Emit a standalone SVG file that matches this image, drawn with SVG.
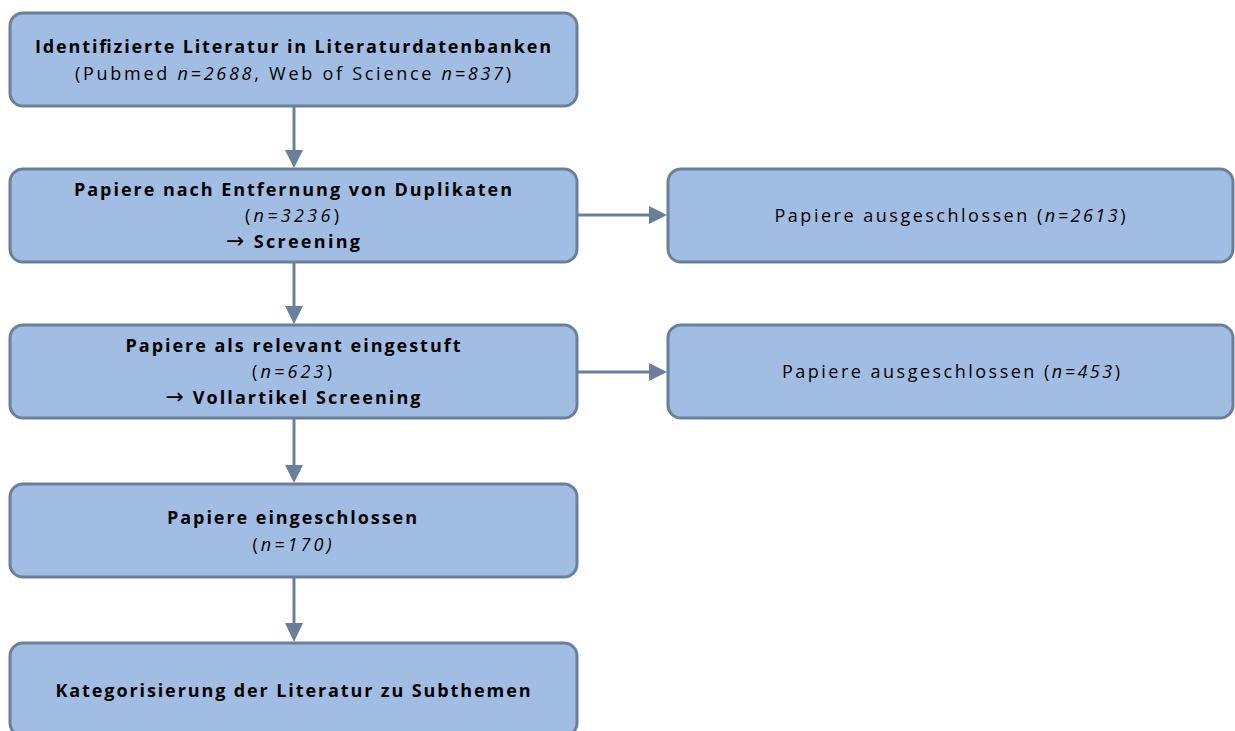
<svg xmlns="http://www.w3.org/2000/svg" width="1235" height="731" viewBox="0 0 1235 731">
<defs>
<style>
.box{fill:#A2BDE3;stroke:#6A7F9A;stroke-width:3}
text{font-family:"Open Sans","Liberation Sans",sans-serif;font-size:18px;fill:#000;text-anchor:middle}
.b{font-weight:bold}
.i{font-style:italic}
.ar{font-family:"DejaVu Sans",sans-serif;font-weight:normal;font-size:22px}
.con{stroke:#6A7F9A;stroke-width:3;fill:none}
.ah{fill:#6A7F9A}
</style>
</defs>
<rect width="1235" height="731" fill="#fff"/>
<g id="connectors">
<line class="con" x1="294" y1="106" x2="294" y2="151"/><path class="ah" d="M285,150 L303,150 L294,168 Z"/>
<line class="con" x1="294" y1="262" x2="294" y2="307"/><path class="ah" d="M285,306 L303,306 L294,324 Z"/>
<line class="con" x1="294" y1="418" x2="294" y2="466"/><path class="ah" d="M285,465 L303,465 L294,483 Z"/>
<line class="con" x1="294" y1="577" x2="294" y2="624"/><path class="ah" d="M285,623 L303,623 L294,642 Z"/>
<line class="con" x1="577" y1="215" x2="650" y2="215"/><path class="ah" d="M649,206 L649,224 L667,215 Z"/>
<line class="con" x1="577" y1="372" x2="650" y2="372"/><path class="ah" d="M649,363 L649,381 L667,372 Z"/>
</g>
<g id="n1"><rect class="box" x="10" y="13" width="567" height="93" rx="13"/>
<text x="293" y="53" class="b" textLength="516" lengthAdjust="spacing">Identifizierte Literatur in Literaturdatenbanken</text>
<text x="293" y="80" textLength="436" lengthAdjust="spacing">(Pubmed <tspan class="i">n=2688</tspan>, Web of Science <tspan class="i">n=837</tspan>)</text></g>
<g id="n2"><rect class="box" x="10" y="169" width="567" height="93" rx="13"/>
<text x="293" y="196" class="b" textLength="438" lengthAdjust="spacing">Papiere nach Entfernung von Duplikaten</text>
<text x="292" y="222" textLength="94" lengthAdjust="spacing">(<tspan class="i">n=3236</tspan>)</text>
<text x="293" y="248" class="b" textLength="134" lengthAdjust="spacing"><tspan class="ar">→</tspan> Screening</text></g>
<g id="n3"><rect class="box" x="10" y="325" width="567" height="93" rx="13"/>
<text x="293" y="352" class="b" textLength="335" lengthAdjust="spacing">Papiere als relevant eingestuft</text>
<text x="292" y="378" textLength="80" lengthAdjust="spacing">(<tspan class="i">n=623</tspan>)</text>
<text x="293" y="404" class="b" textLength="255" lengthAdjust="spacing"><tspan class="ar">→</tspan> Vollartikel Screening</text></g>
<g id="n4"><rect class="box" x="10" y="484" width="567" height="93" rx="13"/>
<text x="292" y="524" class="b" textLength="250" lengthAdjust="spacing">Papiere eingeschlossen</text>
<text x="292" y="551" textLength="79" lengthAdjust="spacing">(<tspan class="i">n=170)</tspan></text></g>
<g id="n5"><rect class="box" x="10" y="643" width="567" height="93" rx="13"/>
<text x="293" y="697" class="b" textLength="475" lengthAdjust="spacing">Kategorisierung der Literatur zu Subthemen</text></g>
<g id="n6"><rect class="box" x="668" y="169" width="565" height="93" rx="13"/>
<text x="950" y="222" textLength="351" lengthAdjust="spacing">Papiere ausgeschlossen (<tspan class="i">n=2613</tspan>)</text></g>
<g id="n7"><rect class="box" x="668" y="325" width="565" height="93" rx="13"/>
<text x="951" y="378" textLength="338" lengthAdjust="spacing">Papiere ausgeschlossen (<tspan class="i">n=453</tspan>)</text></g>
</svg>
